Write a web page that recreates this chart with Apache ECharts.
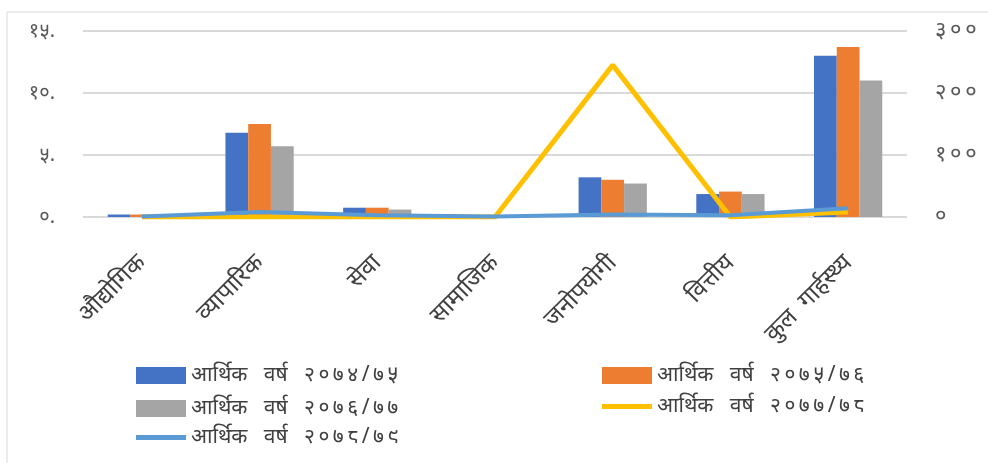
<!DOCTYPE html>
<html lang="ne">
<head>
<meta charset="UTF-8">
<title>आर्थिक वर्ष अनुसार</title>
<script src="https://cdn.jsdelivr.net/npm/echarts@6/dist/echarts.min.js"></script>
<style>
  html, body { margin: 0; padding: 0; background: #fff; }
  #chart { width: 988px; height: 463px; }
</style>
</head>
<body>
<div id="chart"></div>
<script>
// categories and values
var categories = ['औद्योगिक', 'व्यापारिक', 'सेवा', 'सामाजिक', 'जनोपयोगी', 'वित्तीय', 'कुल गार्हस्थ्य'];
var seriesNames = ['आर्थिक वर्ष २०७४/७५', 'आर्थिक वर्ष २०७५/७६', 'आर्थिक वर्ष २०७६/७७', 'आर्थिक वर्ष २०७७/७८', 'आर्थिक वर्ष २०७८/७९'];
var fy7475 = [0.2, 6.8, 0.75, 0, 3.2, 1.85, 13.0];
var fy7576 = [0.2, 7.5, 0.75, 0, 3.0, 2.05, 13.7];
var fy7677 = [0.1, 5.7, 0.6, 0, 2.7, 1.85, 11.0];
var fy7778 = [0, 0, 0, 0, 245, 0, 8];     // right axis
var fy7879 = [1, 8, 3, 1, 4, 3, 14];       // right axis

var devDigits = '०१२३४५६७८९';
function toDev(v) {
    return String(v).replace(/[0-9]/g, function (d) { return devDigits[+d]; });
}
// the original font is much wider, pad words and digits a bit
function spread(s) {
    return s.replace(/ /g, '   ').replace(/([०-९\/])(?=[०-९\/])/g, '$1\u2009');
}

var font = '"Noto Sans", "DejaVu Sans", sans-serif';
var legendText = { fontSize: 21, color: '#404040' };
var chart = echarts.init(document.getElementById('chart'));

// one legend block per slot, so bars get boxes and lines get thin strips
function legendBlock(names, left, top, h) {
    return {
        data: names, orient: 'vertical', left: left, top: top,
        icon: 'rect', itemWidth: 50, itemHeight: h, itemGap: 12, itemTextGap: 4,
        textStyle: legendText,
        formatter: spread
    };
}

chart.setOption({
    animation: false,
    textStyle: { fontFamily: font },
    color: ['#4472C4', '#ED7D31', '#A5A5A5', '#FFC000', '#5B9BD5'],
    grid: { left: 83, right: 81, top: 31, bottom: 246 },
    graphic: [{
        type: 'rect',
        shape: { x: 7, y: 12, width: 1100, height: 600 },
        style: { fill: 'none', stroke: '#d9d9d9', lineWidth: 1 },
        silent: true
    }],
    legend: [
        legendBlock([seriesNames[0], seriesNames[2]], 131, 360, 17),
        legendBlock([seriesNames[4]], 131, 422, 5),
        legendBlock([seriesNames[1]], 597, 360, 17),
        legendBlock([seriesNames[3]], 597, 391, 5)
    ],
    xAxis: {
        type: 'category',
        data: categories,
        axisLine: { show: false },
        axisTick: { show: false },
        axisLabel: {
            rotate: 45, fontSize: 24, color: '#404040', margin: 42, interval: 0,
            formatter: function (v) { return v.replace(/ /g, '  '); }
        }
    },
    yAxis: [{
        type: 'value',
        min: 0, max: 15, interval: 5,
        axisLine: { show: false },
        axisTick: { show: false },
        splitLine: { lineStyle: { color: '#d9d9d9', width: 2 } },
        axisLabel: { margin: 28, fontSize: 20, color: '#595959', formatter: function (v) { return toDev(v) + '.'; } }
    }, {
        type: 'value',
        min: 0, max: 300, interval: 100,
        axisLine: { show: false },
        axisTick: { show: false },
        splitLine: { show: false },
        axisLabel: { margin: 28, fontSize: 22, color: '#595959', formatter: function (v) { return spread(toDev(v)); } }
    }],
    series: [
        { name: seriesNames[0], type: 'bar', data: fy7475, barGap: '0%', barCategoryGap: '42%' },
        { name: seriesNames[1], type: 'bar', data: fy7576, barGap: '0%', barCategoryGap: '42%' },
        { name: seriesNames[2], type: 'bar', data: fy7677, barGap: '0%', barCategoryGap: '42%' },
        { name: seriesNames[3], type: 'line', yAxisIndex: 1, data: fy7778, symbol: 'none', lineStyle: { width: 5 } },
        { name: seriesNames[4], type: 'line', yAxisIndex: 1, data: fy7879, symbol: 'none', lineStyle: { width: 4 } }
    ]
});
</script>
</body>
</html>
